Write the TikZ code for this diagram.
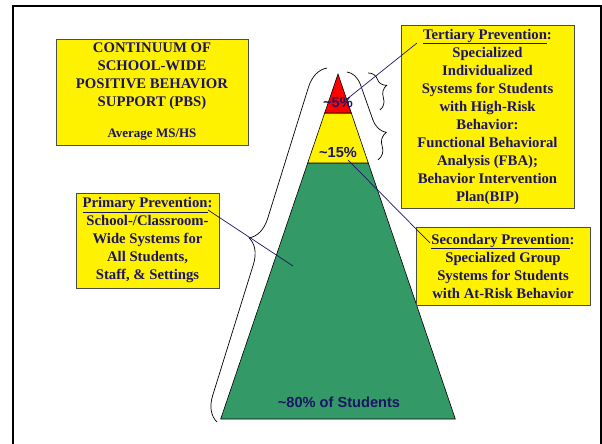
\documentclass[tikz,border=0pt]{standalone}
\usepackage{fontspec}
\setmainfont{Liberation Serif}
\setsansfont{Liberation Sans}
\usetikzlibrary{decorations.pathreplacing,shadows}
\definecolor{navy}{RGB}{28,20,100}
\definecolor{pbsgreen}{RGB}{51,153,102}
\begin{document}
\begin{tikzpicture}[x=1pt,y=-1pt,
    caja/.style={draw=black!70,fill=yellow,line width=0.8pt,align=center,text=navy,inner sep=0pt,
        font=\fontsize{14.7}{18}\selectfont\bfseries,
        drop shadow={shadow xshift=1.2pt,shadow yshift=-1.2pt,opacity=0.6}},
    llave/.style={decorate,black,line width=0.7pt},
    linea/.style={navy,line width=0.7pt},
    pct/.style={text=navy,inner sep=0pt,font=\sffamily\bfseries\fontsize{14.6}{17}\selectfont}]
\useasboundingbox (0,0) rectangle (602,444);

%Marco
\draw[line width=2.5pt] (13,470) -- (13,6) -- (601,6) -- (601,470);

%Piramide
\filldraw[fill=pbsgreen,draw=black,line width=0.6pt] (307.7,163) -- (368.3,163) -- (455.3,419) -- (220.7,419) -- cycle;
\filldraw[fill=yellow,draw=black,line width=0.6pt] (324.7,113) -- (351.3,113) -- (368.3,163) -- (307.7,163) -- cycle;
\filldraw[fill=red,draw=black,line width=0.6pt] (338,74) -- (351.3,113) -- (324.7,113) -- cycle;

%Llaves
\draw[llave,decoration={brace,amplitude=24pt,aspect=0.5}] (217,422) -- (327,68);
\draw[llave,decoration={brace,amplitude=17pt,aspect=0.75}] (347,72) -- (378,160);
\draw[llave,decoration={brace,amplitude=14pt,aspect=0.45}] (368,73) -- (380,110);

%Porcentajes
\node[pct] (cinco) at (338,102) {\textasciitilde5\%};
\node[pct] (quince) at (338,152) {\textasciitilde15\%};
\node[pct] (ochenta) at (339,402) {\textasciitilde80\% of Students};

%Cajas
\node[caja,minimum width=192pt,minimum height=106pt] (titulo) at (152,92)
    {CONTINUUM OF\\SCHOOL-WIDE\\POSITIVE BEHAVIOR\\SUPPORT (PBS)\\[13pt]{\fontsize{13}{16}\selectfont Average MS/HS}};
\node[caja,minimum width=173pt,minimum height=183pt] (terciaria) at (487.5,116.5)
    {\underline{Tertiary Prevention}:\\Specialized\\Individualized\\Systems for Students\\with High-Risk\\Behavior:\\Functional Behavioral\\Analysis (FBA);\\Behavior Intervention\\Plan(BIP)};
\node[caja,minimum width=143pt,minimum height=95pt] (primaria) at (147.5,240.5)
    {\underline{Primary Prevention}:\\School-/Classroom-\\Wide Systems for\\All Students,\\Staff, \& Settings};
\node[caja,minimum width=174pt,minimum height=78pt] (secundaria) at (503,266)
    {\underline{Secondary Prevention}:\\Specialized Group\\Systems for Students\\with At-Risk Behavior};

%Lineas
\coordinate (ter1) at (417,43);
\coordinate (ter2) at (347,99);
\coordinate (sec1) at (348,160);
\coordinate (sec2) at (430,243);
\coordinate (pri1) at (208,210);
\coordinate (pri2) at (293,266);
\draw[linea] (ter1) -- (ter2);
\draw[linea] (sec1) -- (sec2);
\draw[linea] (pri1) -- (pri2);
\end{tikzpicture}
\end{document}
